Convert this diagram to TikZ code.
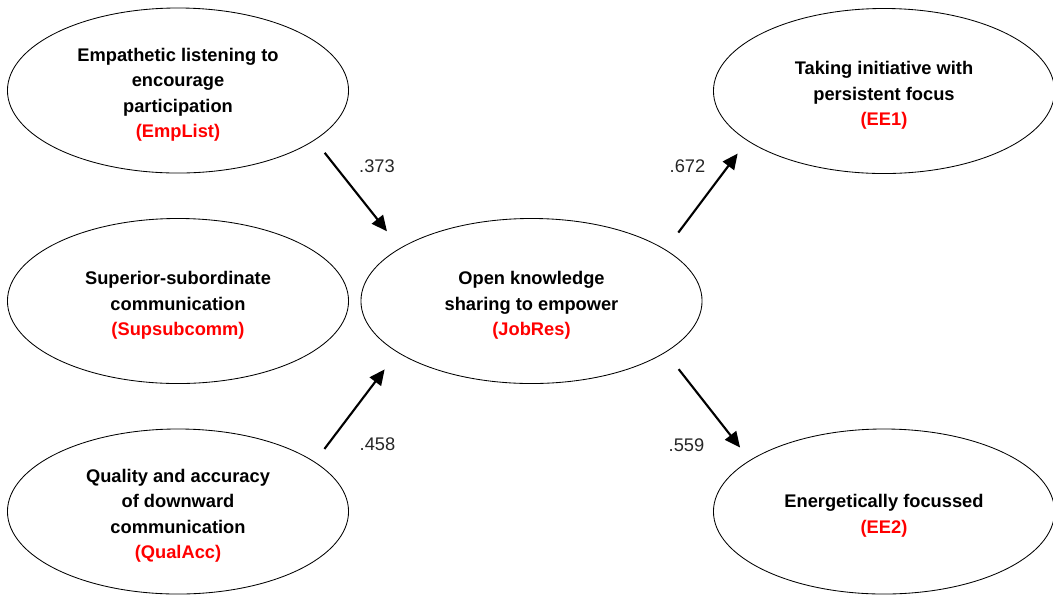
\documentclass[tikz,border=0pt]{standalone}
\usepackage{fontspec}
\usepackage{xcolor}
\usetikzlibrary{arrows.meta,shapes.geometric}
\newfontfamily\diagfont{Liberation Sans}
\def\gap{\rule{0pt}{15.5pt}}

\begin{document}
\begin{tikzpicture}[x=0.025cm, y=-0.025cm,
    construct/.style={draw, ellipse, line width=0.6pt, minimum width=8.525cm, minimum height=4.125cm,
        inner sep=0pt, align=center, font=\diagfont\bfseries\fontsize{13}{17.8}\selectfont},
    effect/.style={line width=1.5pt, -{Triangle[length=11pt,width=10pt]}},
    coef/.style={font=\diagfont\fontsize{13}{16}\selectfont, text=black!85}]
    \useasboundingbox (0,0) rectangle (1053,595);
    \node[construct] (EmpList) at (178,90.5) {\gap Empathetic listening to\\encourage\\participation\\\textcolor{red}{(EmpList)}};
    \node[construct] (SupSub) at (178,301) {\gap Superior-subordinate\\communication\\\textcolor{red}{(Supsubcomm)}};
    \node[construct] (QualAcc) at (178,511.5) {\gap Quality and accuracy\\of downward\\communication\\\textcolor{red}{(QualAcc)}};
    \node[construct] (JobRes) at (531.5,301) {\gap Open knowledge\\sharing to empower\\\textcolor{red}{(JobRes)}};
    \node[construct] (EE1) at (884,91) {\gap Taking initiative with\\persistent focus\\\textcolor{red}{(EE1)}};
    \node[construct] (EE2) at (884,511.5) {\gap Energetically focussed\\\textcolor{red}{(EE2)}};
    \draw[effect, shorten <=0.4cm, shorten >=0.53cm] (EmpList.-20.4) -- (JobRes.158.5);
    \draw[effect, shorten <=0.4cm, shorten >=0.53cm] (QualAcc.20.4) -- (JobRes.201.5);
    \draw[effect, shorten <=0.53cm, shorten >=0.4cm] (JobRes.21.5) -- (EE1.200.4);
    \draw[effect, shorten <=0.53cm, shorten >=0.4cm] (JobRes.-21.5) -- (EE2.159.6);
    \node[coef] (c373) at (377,166.5) {.373};
    \node[coef] (c458) at (377.5,444.5) {.458};
    \node[coef] (c672) at (687.5,166) {.672};
    \node[coef] (c559) at (686.5,445) {.559};
\end{tikzpicture}
\end{document}
